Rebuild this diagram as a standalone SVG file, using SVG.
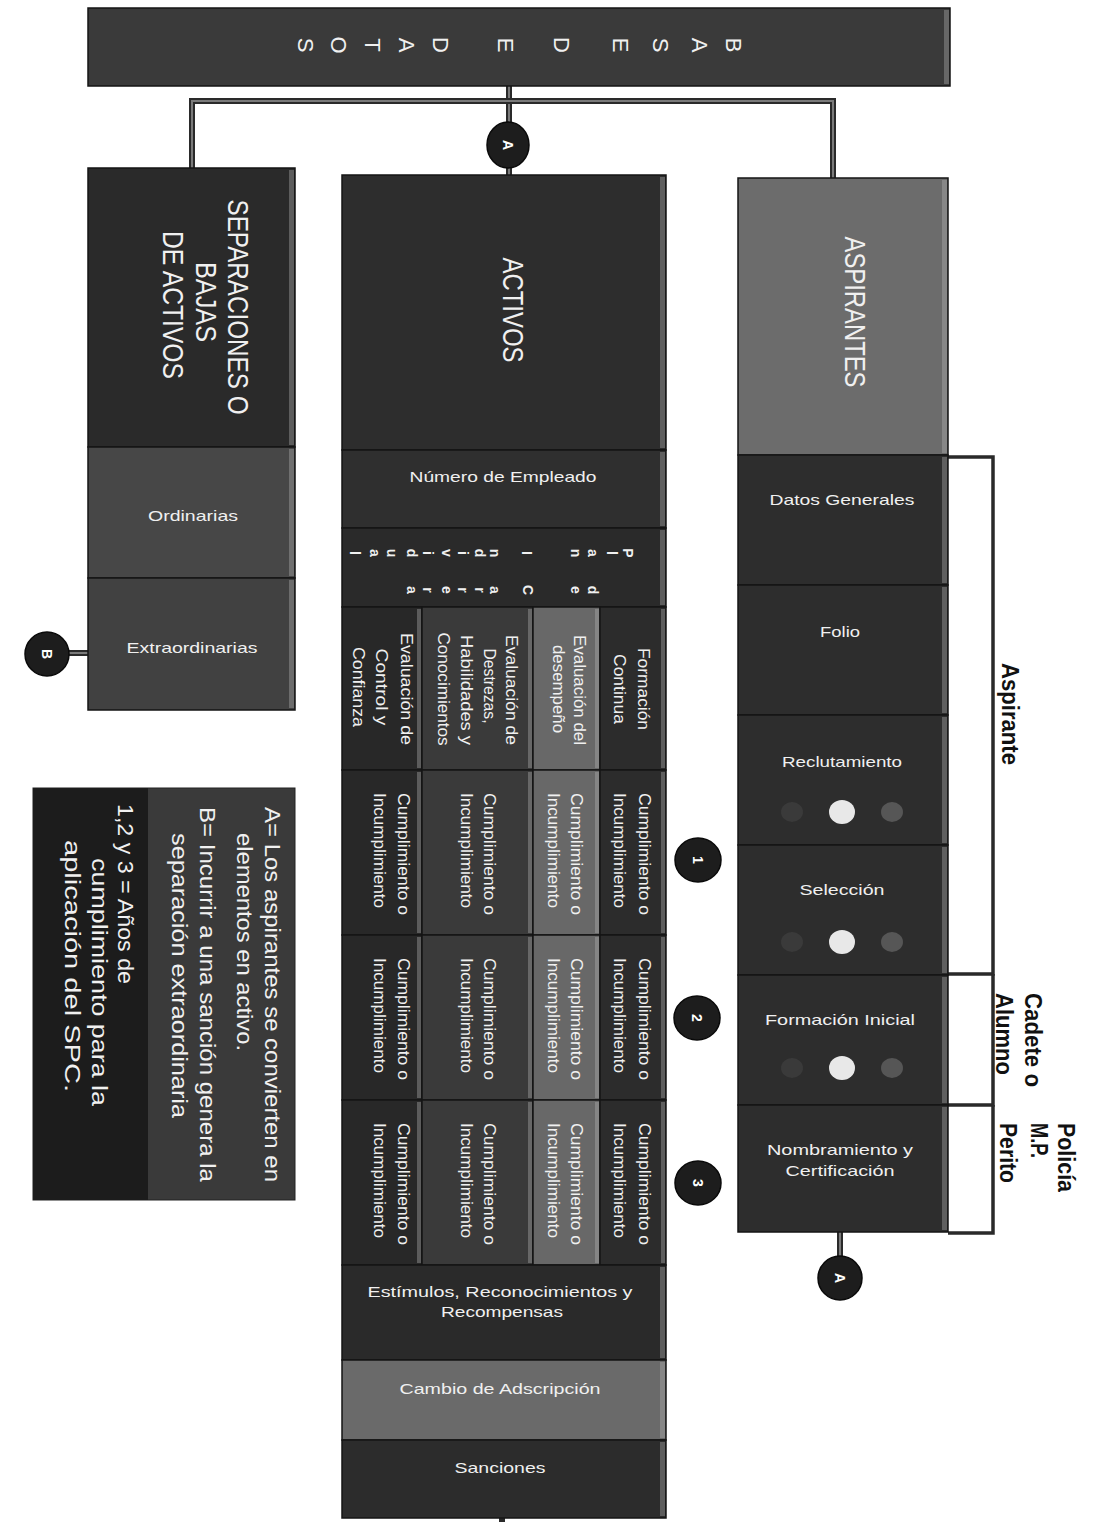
<svg xmlns="http://www.w3.org/2000/svg" width="1094" height="1522" viewBox="0 0 1094 1522">
<style>
.c{stroke:#151515;stroke-width:1.5}
.hl{fill:#bdbdbd;opacity:.35}
.t{font-family:"Liberation Sans",Arial,sans-serif;fill:#f0f0f0}
.lb{font-family:"Liberation Sans",Arial,sans-serif;fill:#111;font-weight:bold}
.lo{fill:none;stroke:#2a2a2a;stroke-width:6}
.li{fill:none;stroke:#7a7a7a;stroke-width:2}
.br{fill:none;stroke:#2a2a2a;stroke-width:3.5}
.cir{fill:#1d1d1d;stroke:#0a0a0a;stroke-width:1.5}
.ct{font-family:"Liberation Sans",Arial,sans-serif;fill:#fff;font-weight:bold;font-size:14px}
.dl{fill:#e8e8e8}
.dd{fill:#3a3a3a}
.dm{fill:#565656}
</style>
<rect width="1094" height="1522" fill="#ffffff"/>

<g id="connectors">
  <path class="lo" d="M509,86 V175"/>
  <path class="li" d="M509,86 V175"/>
  <path class="lo" d="M192,170 V101 H833 V178"/>
  <path class="li" d="M192,170 V101 H833 V178"/>
  <path class="lo" d="M840,1232 V1258"/>
  <path class="li" d="M840,1232 V1258"/>
  <path class="lo" d="M88,653 H68"/>
  <path class="li" d="M88,653 H68"/>
  <path class="lo" d="M502,1518 V1522"/>
  <path class="br" d="M948,457 H993 V974 H948"/>
  <path class="br" d="M993,974 V1105 H948"/>
  <path class="br" d="M993,1105 V1233 H948"/>
</g>

<g id="base-de-datos">
  <rect class="c" x="88" y="8" width="862" height="78" fill="#3a3a3a"/>
  <rect class="hl" x="944" y="10" width="5" height="74"/>
  <g class="t" font-size="22" text-anchor="middle">
    <text transform="translate(734,45) rotate(90)" dy="8">B</text>
    <text transform="translate(700,45) rotate(90)" dy="8">A</text>
    <text transform="translate(661,45) rotate(90)" dy="8">S</text>
    <text transform="translate(621,45) rotate(90)" dy="8">E</text>
    <text transform="translate(562,45) rotate(90)" dy="8">D</text>
    <text transform="translate(506,45) rotate(90)" dy="8">E</text>
    <text transform="translate(441,45) rotate(90)" dy="8">D</text>
    <text transform="translate(407,45) rotate(90)" dy="8">A</text>
    <text transform="translate(373,45) rotate(90)" dy="8">T</text>
    <text transform="translate(339,45) rotate(90)" dy="8">O</text>
    <text transform="translate(306,45) rotate(90)" dy="8">S</text>
  </g>
</g>

<g id="separaciones">
  <rect class="c" x="88" y="168" width="207" height="279" fill="#2a2a2a"/>
  <rect class="hl" x="289" y="170" width="5" height="275"/>
  <g class="t" font-size="29" text-anchor="middle">
    <text transform="translate(228,307) rotate(90)" textLength="215" lengthAdjust="spacingAndGlyphs">SEPARACIONES O</text>
    <text transform="translate(196,302) rotate(90)" textLength="80" lengthAdjust="spacingAndGlyphs">BAJAS</text>
    <text transform="translate(163,305) rotate(90)" textLength="148" lengthAdjust="spacingAndGlyphs">DE ACTIVOS</text>
  </g>
</g>
<g id="ordinarias">
  <rect class="c" x="88" y="447" width="207" height="131" fill="#474747"/>
  <rect class="hl" x="289" y="449" width="5" height="127"/>
  <text class="t" x="193" y="521" font-size="15" text-anchor="middle" textLength="90" lengthAdjust="spacingAndGlyphs">Ordinarias</text>
</g>
<g id="extraordinarias">
  <rect class="c" x="88" y="578" width="207" height="132" fill="#414141"/>
  <rect class="hl" x="289" y="580" width="5" height="128"/>
  <text class="t" x="192" y="653" font-size="15" text-anchor="middle" textLength="131" lengthAdjust="spacingAndGlyphs">Extraordinarias</text>
</g>
<g id="circle-b">
  <ellipse class="cir" cx="47" cy="654" rx="22" ry="22"/>
  <text class="ct" transform="translate(47,654) rotate(90)" text-anchor="middle" dy="5">B</text>
</g>

<g id="activos">
  <rect class="c" x="342" y="175" width="324" height="275" fill="#2d2d2d"/>
  <rect class="hl" x="660" y="177" width="5" height="271"/>
  <text class="t" transform="translate(503,310) rotate(90)" font-size="29" text-anchor="middle" textLength="105" lengthAdjust="spacingAndGlyphs">ACTIVOS</text>
</g>
<g id="numero-empleado">
  <rect class="c" x="342" y="450" width="324" height="78" fill="#2f2f2f"/>
  <rect class="hl" x="660" y="452" width="5" height="74"/>
  <text class="t" x="503" y="482" font-size="15" text-anchor="middle" textLength="187" lengthAdjust="spacingAndGlyphs">Número de Empleado</text>
</g>
<g id="plan-carrera">
  <rect class="c" x="342" y="528" width="324" height="79" fill="#2a2a2a"/>
  <rect class="hl" x="660" y="530" width="5" height="75"/>
  <g class="t" font-size="14" font-weight="bold" text-anchor="middle">
    <text transform="translate(628,553) rotate(90)" dy="5">P</text>
    <text transform="translate(612,553) rotate(90)" dy="5">l</text>
    <text transform="translate(593,553) rotate(90)" dy="5">a</text>
    <text transform="translate(576,553) rotate(90)" dy="5">n</text>
    <text transform="translate(527,553) rotate(90)" dy="5">I</text>
    <text transform="translate(495,553) rotate(90)" dy="5">n</text>
    <text transform="translate(480,553) rotate(90)" dy="5">d</text>
    <text transform="translate(463,553) rotate(90)" dy="5">i</text>
    <text transform="translate(447,553) rotate(90)" dy="5">v</text>
    <text transform="translate(428,553) rotate(90)" dy="5">i</text>
    <text transform="translate(412,553) rotate(90)" dy="5">d</text>
    <text transform="translate(392,553) rotate(90)" dy="5">u</text>
    <text transform="translate(375,553) rotate(90)" dy="5">a</text>
    <text transform="translate(355,553) rotate(90)" dy="5">l</text>
    <text transform="translate(593,590) rotate(90)" dy="5">d</text>
    <text transform="translate(576,590) rotate(90)" dy="5">e</text>
    <text transform="translate(528,590) rotate(90)" dy="5">C</text>
    <text transform="translate(495,590) rotate(90)" dy="5">a</text>
    <text transform="translate(480,590) rotate(90)" dy="5">r</text>
    <text transform="translate(463,590) rotate(90)" dy="5">r</text>
    <text transform="translate(447,590) rotate(90)" dy="5">e</text>
    <text transform="translate(428,590) rotate(90)" dy="5">r</text>
    <text transform="translate(412,590) rotate(90)" dy="5">a</text>
  </g>
</g>

<g id="sub-headers" class="t" font-size="17" text-anchor="middle">
  <rect class="c" x="342" y="607" width="80" height="163" fill="#282828"/>
  <rect class="c" x="422" y="607" width="111" height="163" fill="#3a3a3a"/>
  <rect class="c" x="533" y="607" width="67" height="163" fill="#686868"/>
  <rect class="c" x="600" y="607" width="66" height="163" fill="#2c2c2c"/>
  <rect class="hl" x="417" y="609" width="4" height="159"/>
  <rect class="hl" x="528" y="609" width="4" height="159"/>
  <rect class="hl" x="595" y="609" width="4" height="159"/>
  <rect class="hl" x="661" y="609" width="4" height="159"/>
  <text transform="translate(638,689) rotate(90)" textLength="82" lengthAdjust="spacingAndGlyphs">Formación</text>
  <text transform="translate(614,689) rotate(90)" textLength="70" lengthAdjust="spacingAndGlyphs">Continua</text>
  <text transform="translate(574,690) rotate(90)" textLength="110" lengthAdjust="spacingAndGlyphs">Evaluación del</text>
  <text transform="translate(553,689) rotate(90)" textLength="88" lengthAdjust="spacingAndGlyphs">desempeño</text>
  <text transform="translate(506,690) rotate(90)" textLength="110" lengthAdjust="spacingAndGlyphs">Evaluación de</text>
  <text transform="translate(484,686) rotate(90)" textLength="75" lengthAdjust="spacingAndGlyphs">Destrezas,</text>
  <text transform="translate(461,690) rotate(90)" textLength="110" lengthAdjust="spacingAndGlyphs">Habilidades y</text>
  <text transform="translate(438,689) rotate(90)" textLength="113" lengthAdjust="spacingAndGlyphs">Conocimientos</text>
  <text transform="translate(401,689) rotate(90)" textLength="112" lengthAdjust="spacingAndGlyphs">Evaluación de</text>
  <text transform="translate(376,687) rotate(90)" textLength="77" lengthAdjust="spacingAndGlyphs">Control y</text>
  <text transform="translate(353,687) rotate(90)" textLength="80" lengthAdjust="spacingAndGlyphs">Confianza</text>
</g>

<g id="year-1" class="t" font-size="17">
  <rect class="c" x="342" y="770" width="80" height="165" fill="#282828"/>
  <rect class="c" x="422" y="770" width="111" height="165" fill="#3a3a3a"/>
  <rect class="c" x="533" y="770" width="67" height="165" fill="#686868"/>
  <rect class="c" x="600" y="770" width="66" height="165" fill="#2c2c2c"/>
  <rect class="hl" x="417" y="772" width="4" height="161"/>
  <rect class="hl" x="528" y="772" width="4" height="161"/>
  <rect class="hl" x="595" y="772" width="4" height="161"/>
  <rect class="hl" x="661" y="772" width="4" height="161"/>
  <text transform="translate(639,793) rotate(90)" textLength="122" lengthAdjust="spacingAndGlyphs">Cumplimiento o</text>
  <text transform="translate(614,793) rotate(90)" textLength="115" lengthAdjust="spacingAndGlyphs">Incumplimiento</text>
  <text transform="translate(571,793) rotate(90)" textLength="122" lengthAdjust="spacingAndGlyphs">Cumplimiento o</text>
  <text transform="translate(548,793) rotate(90)" textLength="115" lengthAdjust="spacingAndGlyphs">Incumplimiento</text>
  <text transform="translate(484,793) rotate(90)" textLength="122" lengthAdjust="spacingAndGlyphs">Cumplimiento o</text>
  <text transform="translate(461,793) rotate(90)" textLength="115" lengthAdjust="spacingAndGlyphs">Incumplimiento</text>
  <text transform="translate(398,793) rotate(90)" textLength="122" lengthAdjust="spacingAndGlyphs">Cumplimiento o</text>
  <text transform="translate(374,793) rotate(90)" textLength="115" lengthAdjust="spacingAndGlyphs">Incumplimiento</text>
</g>

<g id="year-2" class="t" font-size="17">
  <rect class="c" x="342" y="935" width="80" height="165" fill="#282828"/>
  <rect class="c" x="422" y="935" width="111" height="165" fill="#3a3a3a"/>
  <rect class="c" x="533" y="935" width="67" height="165" fill="#686868"/>
  <rect class="c" x="600" y="935" width="66" height="165" fill="#2c2c2c"/>
  <rect class="hl" x="417" y="937" width="4" height="161"/>
  <rect class="hl" x="528" y="937" width="4" height="161"/>
  <rect class="hl" x="595" y="937" width="4" height="161"/>
  <rect class="hl" x="661" y="937" width="4" height="161"/>
  <text transform="translate(639,958) rotate(90)" textLength="122" lengthAdjust="spacingAndGlyphs">Cumplimiento o</text>
  <text transform="translate(614,958) rotate(90)" textLength="115" lengthAdjust="spacingAndGlyphs">Incumplimiento</text>
  <text transform="translate(571,958) rotate(90)" textLength="122" lengthAdjust="spacingAndGlyphs">Cumplimiento o</text>
  <text transform="translate(548,958) rotate(90)" textLength="115" lengthAdjust="spacingAndGlyphs">Incumplimiento</text>
  <text transform="translate(484,958) rotate(90)" textLength="122" lengthAdjust="spacingAndGlyphs">Cumplimiento o</text>
  <text transform="translate(461,958) rotate(90)" textLength="115" lengthAdjust="spacingAndGlyphs">Incumplimiento</text>
  <text transform="translate(398,958) rotate(90)" textLength="122" lengthAdjust="spacingAndGlyphs">Cumplimiento o</text>
  <text transform="translate(374,958) rotate(90)" textLength="115" lengthAdjust="spacingAndGlyphs">Incumplimiento</text>
</g>

<g id="year-3" class="t" font-size="17">
  <rect class="c" x="342" y="1100" width="80" height="165" fill="#282828"/>
  <rect class="c" x="422" y="1100" width="111" height="165" fill="#3a3a3a"/>
  <rect class="c" x="533" y="1100" width="67" height="165" fill="#686868"/>
  <rect class="c" x="600" y="1100" width="66" height="165" fill="#2c2c2c"/>
  <rect class="hl" x="417" y="1102" width="4" height="161"/>
  <rect class="hl" x="528" y="1102" width="4" height="161"/>
  <rect class="hl" x="595" y="1102" width="4" height="161"/>
  <rect class="hl" x="661" y="1102" width="4" height="161"/>
  <text transform="translate(639,1123) rotate(90)" textLength="122" lengthAdjust="spacingAndGlyphs">Cumplimiento o</text>
  <text transform="translate(614,1123) rotate(90)" textLength="115" lengthAdjust="spacingAndGlyphs">Incumplimiento</text>
  <text transform="translate(571,1123) rotate(90)" textLength="122" lengthAdjust="spacingAndGlyphs">Cumplimiento o</text>
  <text transform="translate(548,1123) rotate(90)" textLength="115" lengthAdjust="spacingAndGlyphs">Incumplimiento</text>
  <text transform="translate(484,1123) rotate(90)" textLength="122" lengthAdjust="spacingAndGlyphs">Cumplimiento o</text>
  <text transform="translate(461,1123) rotate(90)" textLength="115" lengthAdjust="spacingAndGlyphs">Incumplimiento</text>
  <text transform="translate(398,1123) rotate(90)" textLength="122" lengthAdjust="spacingAndGlyphs">Cumplimiento o</text>
  <text transform="translate(374,1123) rotate(90)" textLength="115" lengthAdjust="spacingAndGlyphs">Incumplimiento</text>
</g>

<g id="estimulos">
  <rect class="c" x="342" y="1265" width="324" height="95" fill="#2a2a2a"/>
  <rect class="hl" x="660" y="1267" width="5" height="91"/>
  <text class="t" x="500" y="1297" font-size="15" text-anchor="middle" textLength="265" lengthAdjust="spacingAndGlyphs">Estímulos, Reconocimientos y</text>
  <text class="t" x="502" y="1317" font-size="15" text-anchor="middle" textLength="122" lengthAdjust="spacingAndGlyphs">Recompensas</text>
</g>
<g id="cambio-adscripcion">
  <rect class="c" x="342" y="1360" width="324" height="80" fill="#6a6a6a"/>
  <rect class="hl" x="660" y="1362" width="5" height="76"/>
  <text class="t" x="500" y="1394" font-size="15" text-anchor="middle" textLength="201" lengthAdjust="spacingAndGlyphs">Cambio de Adscripción</text>
</g>
<g id="sanciones">
  <rect class="c" x="342" y="1440" width="324" height="78" fill="#2c2c2c"/>
  <rect class="hl" x="660" y="1442" width="5" height="74"/>
  <text class="t" x="500" y="1473" font-size="15" text-anchor="middle" textLength="91" lengthAdjust="spacingAndGlyphs">Sanciones</text>
</g>

<g id="aspirantes">
  <rect class="c" x="738" y="178" width="210" height="277" fill="#6c6c6c"/>
  <rect class="hl" x="942" y="180" width="5" height="273"/>
  <text class="t" transform="translate(845,312) rotate(90)" font-size="29" text-anchor="middle" textLength="151" lengthAdjust="spacingAndGlyphs">ASPIRANTES</text>
</g>
<g id="datos-generales">
  <rect class="c" x="738" y="455" width="210" height="130" fill="#2d2d2d"/>
  <rect class="hl" x="942" y="457" width="5" height="126"/>
  <text class="t" x="842" y="505" font-size="15" text-anchor="middle" textLength="145" lengthAdjust="spacingAndGlyphs">Datos Generales</text>
</g>
<g id="folio">
  <rect class="c" x="738" y="585" width="210" height="130" fill="#2d2d2d"/>
  <rect class="hl" x="942" y="587" width="5" height="126"/>
  <text class="t" x="840" y="637" font-size="15" text-anchor="middle" textLength="40" lengthAdjust="spacingAndGlyphs">Folio</text>
</g>
<g id="reclutamiento">
  <rect class="c" x="738" y="715" width="210" height="130" fill="#2d2d2d"/>
  <rect class="hl" x="942" y="717" width="5" height="126"/>
  <text class="t" x="842" y="767" font-size="15" text-anchor="middle" textLength="120" lengthAdjust="spacingAndGlyphs">Reclutamiento</text>
  <ellipse class="dd" cx="792" cy="812" rx="11" ry="10"/>
  <ellipse class="dl" cx="842" cy="812" rx="13" ry="12"/>
  <ellipse class="dm" cx="892" cy="812" rx="11" ry="10"/>
</g>
<g id="seleccion">
  <rect class="c" x="738" y="845" width="210" height="130" fill="#2d2d2d"/>
  <rect class="hl" x="942" y="847" width="5" height="126"/>
  <text class="t" x="842" y="895" font-size="15" text-anchor="middle" textLength="85" lengthAdjust="spacingAndGlyphs">Selección</text>
  <ellipse class="dd" cx="792" cy="942" rx="11" ry="10"/>
  <ellipse class="dl" cx="842" cy="942" rx="13" ry="12"/>
  <ellipse class="dm" cx="892" cy="942" rx="11" ry="10"/>
</g>
<g id="formacion-inicial">
  <rect class="c" x="738" y="975" width="210" height="130" fill="#2d2d2d"/>
  <rect class="hl" x="942" y="977" width="5" height="126"/>
  <text class="t" x="840" y="1025" font-size="15" text-anchor="middle" textLength="150" lengthAdjust="spacingAndGlyphs">Formación Inicial</text>
  <ellipse class="dd" cx="792" cy="1068" rx="11" ry="10"/>
  <ellipse class="dl" cx="842" cy="1068" rx="13" ry="12"/>
  <ellipse class="dm" cx="892" cy="1068" rx="11" ry="10"/>
</g>
<g id="nombramiento">
  <rect class="c" x="738" y="1105" width="210" height="127" fill="#2d2d2d"/>
  <rect class="hl" x="942" y="1107" width="5" height="123"/>
  <text class="t" x="840" y="1155" font-size="15" text-anchor="middle" textLength="146" lengthAdjust="spacingAndGlyphs">Nombramiento  y</text>
  <text class="t" x="840" y="1176" font-size="15" text-anchor="middle" textLength="109" lengthAdjust="spacingAndGlyphs">Certificación</text>
</g>

<g id="circle-a-top">
  <ellipse class="cir" cx="508" cy="145" rx="21" ry="23"/>
  <text class="ct" transform="translate(508,145) rotate(90)" text-anchor="middle" dy="5">A</text>
</g>
<g id="circle-a-bottom">
  <ellipse class="cir" cx="840" cy="1278" rx="22" ry="22"/>
  <text class="ct" transform="translate(840,1278) rotate(90)" text-anchor="middle" dy="5">A</text>
</g>
<g id="circle-1">
  <ellipse class="cir" cx="698" cy="860" rx="23" ry="22"/>
  <text class="ct" transform="translate(698,860) rotate(90)" text-anchor="middle" dy="5">1</text>
</g>
<g id="circle-2">
  <ellipse class="cir" cx="697" cy="1018" rx="23" ry="22"/>
  <text class="ct" transform="translate(697,1018) rotate(90)" text-anchor="middle" dy="5">2</text>
</g>
<g id="circle-3">
  <ellipse class="cir" cx="698" cy="1183" rx="23" ry="22"/>
  <text class="ct" transform="translate(698,1183) rotate(90)" text-anchor="middle" dy="5">3</text>
</g>

<g id="bracket-labels" class="lb" font-size="23">
  <text transform="translate(1002,663) rotate(90)" textLength="102" lengthAdjust="spacingAndGlyphs">Aspirante</text>
  <text transform="translate(1025,993) rotate(90)" textLength="94" lengthAdjust="spacingAndGlyphs">Cadete o</text>
  <text transform="translate(996,993) rotate(90)" textLength="82" lengthAdjust="spacingAndGlyphs">Alumno</text>
  <text transform="translate(1058,1123) rotate(90)" textLength="69" lengthAdjust="spacingAndGlyphs">Policía</text>
  <text transform="translate(1031,1123) rotate(90)" textLength="35" lengthAdjust="spacingAndGlyphs">M.P.</text>
  <text transform="translate(1000,1123) rotate(90)" textLength="60" lengthAdjust="spacingAndGlyphs">Perito</text>
</g>

<g id="legend">
  <rect x="33" y="788" width="262" height="412" fill="#3a3a3a" stroke="#222" stroke-width="1"/>
  <rect x="33" y="788" width="115" height="412" fill="#1c1c1c"/>
  <g class="t" font-size="22">
    <text transform="translate(265,807) rotate(90)" textLength="375" lengthAdjust="spacingAndGlyphs">A= Los aspirantes se convierten en</text>
    <text transform="translate(237,833) rotate(90)" textLength="218" lengthAdjust="spacingAndGlyphs">elementos en activo.</text>
    <text transform="translate(200,807) rotate(90)" textLength="375" lengthAdjust="spacingAndGlyphs">B= Incurrir a una sanción genera la</text>
    <text transform="translate(172,833) rotate(90)" textLength="285" lengthAdjust="spacingAndGlyphs">separación extraordinaria</text>
    <text transform="translate(118,804) rotate(90)" textLength="180" lengthAdjust="spacingAndGlyphs">1,2 y 3 = Años de</text>
    <text transform="translate(92,858) rotate(90)" textLength="248" lengthAdjust="spacingAndGlyphs">cumplimiento para la</text>
    <text transform="translate(65,840) rotate(90)" textLength="252" lengthAdjust="spacingAndGlyphs">aplicación del SPC.</text>
  </g>
</g>
</svg>
